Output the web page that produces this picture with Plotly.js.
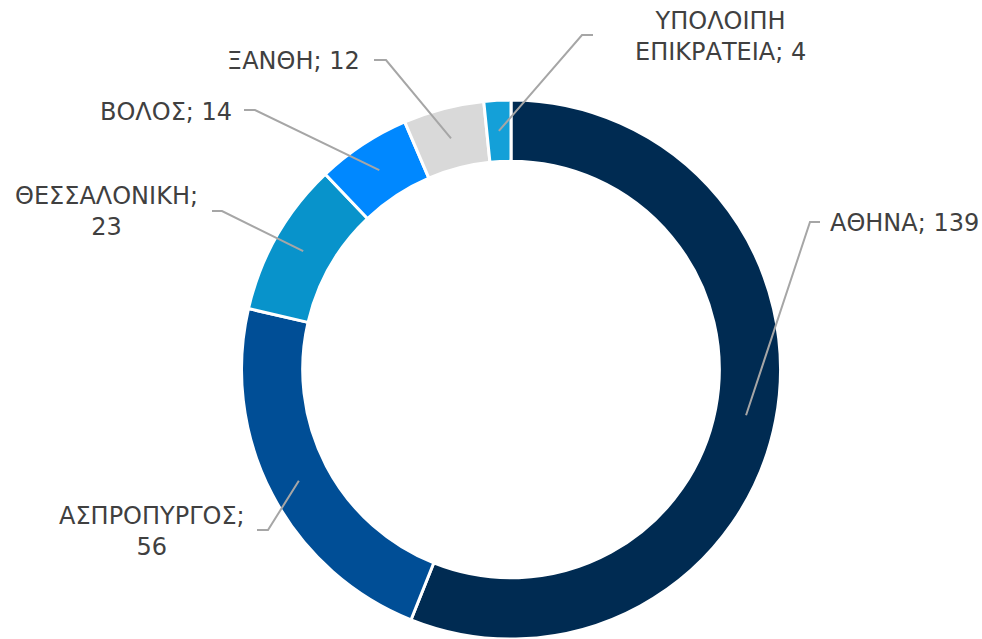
<!DOCTYPE html>
<html>
<head>
<meta charset="utf-8">
<script src="https://cdn.plot.ly/plotly-3.0.1.min.js"></script>
<style>html,body{margin:0;padding:0;background:#fff;}#chart{width:982px;height:639px;}</style>
</head>
<body>
<div id="chart"></div>
<script>
const categories = ["ΑΘΗΝΑ", "ΑΣΠΡΟΠΥΡΓΟΣ", "ΘΕΣΣΑΛΟΝΙΚΗ", "ΒΟΛΟΣ", "ΞΑΝΘΗ", "ΥΠΟΛΟΙΠΗ ΕΠΙΚΡΑΤΕΙΑ"];
const values = [139, 56, 23, 14, 12, 4];
const labelTexts = ["ΑΘΗΝΑ; 139", "ΑΣΠΡΟΠΥΡΓΟΣ;<br>56", "ΘΕΣΣΑΛΟΝΙΚΗ;<br>23", "ΒΟΛΟΣ; 14", "ΞΑΝΘΗ; 12", "ΥΠΟΛΟΙΠΗ<br>ΕΠΙΚΡΑΤΕΙΑ; 4"];
const colors = ["#002B52", "#004E96", "#0893CB", "#0088FF", "#D9D9D9", "#14A0D8"];

const W = 982, H = 639;
const CX = 511, CY = 370, R = 270, HOLE = 0.773;
const midR = R * (1 + HOLE) / 2;

// label placement (pixels): text anchor point, and leader line elbow/end
const labelLayout = [
  {x: 828, y: 223, xa: "left", elbow: [810, 222], end: [820, 222]},
  {x: 152, y: 531, xa: "center", elbow: [268, 530], end: [257, 530]},
  {x: 106, y: 211, xa: "center", elbow: [222, 211], end: [212, 211]},
  {x: 234, y: 112, xa: "right", elbow: [255, 110], end: [244, 110]},
  {x: 362, y: 61,  xa: "right", elbow: [386, 60],  end: [374, 60]},
  {x: 720, y: 36,  xa: "center", elbow: [582, 35], end: [593, 35]}
];

const total = values.reduce((a, b) => a + b, 0);
const px = x => x / W, py = y => 1 - y / H;

const shapes = [];
const annotations = [];
let cum = 0;
values.forEach((v, i) => {
  const mid = (cum + v / 2) / total * 2 * Math.PI;
  cum += v;
  const ax = CX + midR * Math.sin(mid);
  const ay = CY - midR * Math.cos(mid);
  const L = labelLayout[i];
  shapes.push({
    type: "path", xref: "paper", yref: "paper",
    path: `M ${px(ax)} ${py(ay)} L ${px(L.elbow[0])} ${py(L.elbow[1])} L ${px(L.end[0])} ${py(L.end[1])}`,
    line: {color: "#A6A6A6", width: 2}
  });
  annotations.push({
    xref: "paper", yref: "paper", x: px(L.x), y: py(L.y),
    xanchor: L.xa, yanchor: "middle", align: "center",
    text: labelTexts[i], showarrow: false,
    font: {family: "DejaVu Sans, Verdana, sans-serif", size: 24, color: "#404040"}
  });
});

const trace = {
  type: "pie",
  labels: categories,
  values: values,
  hole: HOLE,
  sort: false,
  direction: "clockwise",
  rotation: 0,
  textinfo: "none",
  hoverinfo: "label+value",
  marker: {colors: colors, line: {color: "#FFFFFF", width: 3}},
  domain: {x: [(CX - R) / W, (CX + R) / W], y: [0, (H - CY + R) / H]},
  showlegend: false
};

const layout = {
  width: W, height: H,
  margin: {l: 0, r: 0, t: 0, b: 0},
  paper_bgcolor: "#FFFFFF",
  showlegend: false,
  shapes: shapes,
  annotations: annotations
};

Plotly.newPlot("chart", [trace], layout, {displayModeBar: false, staticPlot: true});
</script>
</body>
</html>
